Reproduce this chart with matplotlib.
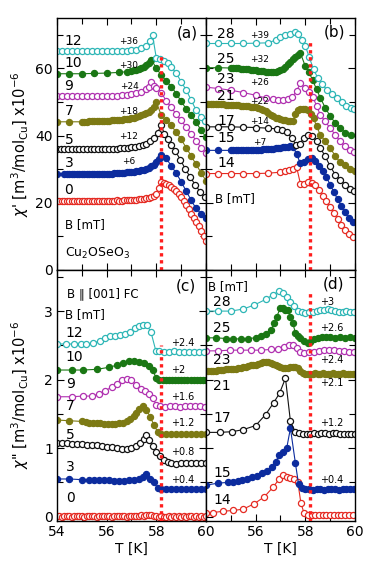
import matplotlib
matplotlib.use("Agg")
import matplotlib.pyplot as plt
from matplotlib.ticker import MultipleLocator

TC = 58.2  # position of the red dotted line [K]

# ---------------- panel (a): chi' , B = 0..12 mT ----------------
a_B = [0, 3, 5, 7, 9, 10, 12]
a_off = [0, 6, 12, 18, 24, 30, 36]

a0_T = [54.0, 54.1, 54.2, 54.3, 54.4, 54.5, 54.6, 54.7, 54.8, 54.9,
        55.0, 55.1, 55.2, 55.3, 55.4, 55.5, 55.6, 55.7, 55.8, 55.9,
        56.0, 56.1, 56.2, 56.3, 56.4, 56.5, 56.6, 56.7, 56.8, 56.9,
        57.0, 57.1, 57.2, 57.3, 57.4, 57.5, 57.6, 57.7, 57.8, 57.9,
        58.0, 58.1, 58.2, 58.3, 58.4, 58.5, 58.6, 58.7, 58.8, 58.9,
        59.0, 59.1, 59.2, 59.3, 59.4, 59.5, 59.6, 59.7, 59.8, 59.9, 60.0]
a0_chi = [20.5, 20.6, 20.5, 20.6, 20.6, 20.5, 20.6, 20.6, 20.5, 20.6,
          20.6, 20.5, 20.6, 20.6, 20.6, 20.5, 20.6, 20.6, 20.6, 20.5,
          20.6, 20.6, 20.6, 20.6, 20.7, 20.6, 20.6, 20.7, 20.7, 20.7,
          20.8, 20.8, 20.9, 21.0, 21.1, 21.2, 21.3, 21.4, 21.6, 21.9,
          22.6, 24.5, 26.3, 26.0, 25.6, 25.2, 24.8, 24.2, 23.5, 22.7,
          21.7, 20.6, 19.4, 18.1, 16.8, 15.6, 14.4, 13.0, 11.5, 10.0, 8.6]

a3_T = [54.0, 54.3, 54.4, 54.5, 54.6, 54.7, 54.8, 54.9, 55.0, 55.1, 55.2, 55.3, 55.4,
        55.5, 55.6, 55.7, 55.8, 55.9, 56.0,
        56.1, 56.2, 56.3, 56.4, 56.5, 56.6, 56.7, 56.8, 56.9, 57.0,
        57.1, 57.2, 57.3, 57.4, 57.5, 57.6, 57.7, 57.8, 57.9, 58.0, 58.1, 58.2,
        58.4, 58.6, 58.8, 59.0, 59.2, 59.4, 59.6, 59.8, 60.0]
a3_chi = [22.6, 22.6, 22.5, 22.6, 22.6, 22.6, 22.5, 22.6, 22.6, 22.6, 22.6, 22.5, 22.6,
          22.6, 22.6, 22.6, 22.6, 22.6, 22.6,
          22.7, 22.7, 22.8, 22.8, 22.9, 22.9, 23.0, 23.1, 23.1, 23.2,
          23.3, 23.4, 23.5, 23.7, 23.9, 24.1, 24.4, 24.8, 25.3, 26.0, 27.0, 28.2,
          27.2, 25.0, 22.8, 20.3, 17.5, 14.8, 12.3, 10.8, 9.6]

a5_T = [54.0, 54.15, 54.3, 54.45, 54.6, 54.75, 54.9, 55.05, 55.2, 55.35, 55.5, 55.65,
        55.8, 55.95, 56.1, 56.25,
        56.4, 56.55, 56.7, 56.85, 57.0, 57.15, 57.3, 57.45, 57.6, 57.75, 57.9,
        58.05, 58.2, 58.32, 58.45, 58.6, 58.77, 58.97, 59.17, 59.37, 59.57, 59.77, 59.95]
a5_chi = [24.1, 24.1, 24.0, 24.1, 24.1, 24.1, 24.0, 24.1, 24.1, 24.1, 24.1, 24.0,
          24.1, 24.1, 24.1, 24.1,
          24.1, 24.2, 24.3, 24.4, 24.5, 24.7, 24.9, 25.2, 25.6, 26.3, 27.3,
          28.8, 31.2, 28.5, 26.9, 25.3, 23.3, 20.8, 18.0, 15.6, 13.3, 11.2, 9.6]

a7_T = [54.0, 54.5, 55.0, 55.1, 55.2, 55.3, 55.4, 55.5, 55.6, 55.7, 55.8, 55.9, 56.0,
        56.1, 56.2, 56.3, 56.4, 56.5, 56.6, 56.7, 56.8, 56.9, 57.0,
        57.1, 57.2, 57.3, 57.4, 57.5, 57.6, 57.7, 57.8, 57.9, 58.0,
        58.2, 58.4, 58.6, 58.8, 59.0, 59.2, 59.4, 59.6, 59.8, 60.0]
a7_chi = [26.1, 26.1, 26.1, 26.1, 26.1, 26.2, 26.2, 26.2, 26.2, 26.3, 26.3, 26.3, 26.4,
          26.4, 26.5, 26.5, 26.6, 26.6, 26.7, 26.8, 26.9, 27.0, 27.1,
          27.3, 27.5, 27.7, 28.0, 28.4, 28.6, 28.9, 29.5, 30.5, 32.0,
          28.0, 26.5, 25.0, 23.0, 20.9, 18.4, 16.0, 13.4, 11.0, 8.5]

a9_T = [54.0, 54.2, 54.4, 54.6, 54.8, 55.0, 55.2, 55.4, 55.6, 55.8, 56.0, 56.2, 56.4,
        56.6, 56.8, 57.0, 57.2, 57.4, 57.6,
        57.7, 57.8, 57.9, 58.0, 58.2, 58.4, 58.6, 58.8, 59.0, 59.2, 59.4, 59.6, 59.8, 60.0]
a9_chi = [27.8, 27.8, 27.8, 27.8, 27.8, 27.8, 27.8, 27.8, 27.8, 27.9, 27.9, 27.9, 27.9,
          28.0, 28.2, 28.4, 28.7, 29.1, 29.8,
          30.6, 31.9, 30.8, 30.2, 28.8, 26.3, 24.4, 22.4, 20.5, 18.5, 16.6, 14.5, 12.4, 10.8]

a10_T = [54.0, 54.5, 55.0, 55.5, 56.0, 56.5, 56.8, 57.0, 57.1, 57.2, 57.3, 57.4, 57.5,
         57.6, 57.7, 57.8,
         58.0, 58.2, 58.4, 58.6, 58.8, 59.0, 59.2, 59.4, 59.6, 59.8, 60.0]
a10_chi = [28.4, 28.4, 28.4, 28.5, 28.6, 28.8, 29.0, 29.2, 29.4, 29.6, 29.8, 30.1, 30.5,
           31.0, 31.7, 32.6,
           30.0, 28.0, 26.2, 24.6, 22.5, 20.2, 18.0, 16.0, 14.0, 11.6, 9.6]

a12_T = [54.0, 54.2, 54.4, 54.6, 54.8, 55.0, 55.2, 55.4, 55.6, 55.8, 56.0, 56.2, 56.4, 56.6,
         56.8, 57.0, 57.2, 57.4, 57.6,
         57.75, 57.85, 58.0, 58.15, 58.3, 58.45, 58.6, 58.8, 59.0, 59.2, 59.4, 59.6, 59.8, 59.95]
a12_chi = [29.2, 29.2, 29.2, 29.2, 29.2, 29.2, 29.2, 29.2, 29.2, 29.2, 29.2, 29.2, 29.2, 29.2,
           29.3, 29.4, 29.6, 30.0, 30.8,
           32.0, 33.8, 27.0, 26.7, 26.3, 25.5, 24.4, 22.6, 20.0, 17.6, 14.6, 11.6, 9.6, 8.2]

# ---------------- panel (b): chi' , B = 14..28 mT ----------------
b_B = [14, 15, 17, 21, 23, 25, 28]
b_off = [0, 7, 14, 22, 26, 32, 39]

b14_T = [54.0, 54.5, 55.0, 55.5, 56.0, 56.5, 57.0, 57.2, 57.35, 57.5, 57.65,
         57.8, 57.95, 58.1, 58.25, 58.4, 58.55, 58.7, 58.85, 59.0, 59.15, 59.3, 59.45,
         59.6, 59.75, 59.9]
b14_chi = [28.7, 28.7, 28.7, 28.7, 28.7, 28.8, 29.1, 29.5, 29.8, 30.2, 30.6,
           25.7, 25.6, 26.1, 26.0, 25.2, 23.8, 21.9, 20.4, 18.7, 17.0, 15.2, 13.4,
           11.8, 10.7, 9.8]

b15_T = [54.0, 54.5, 55.0, 55.1, 55.2, 55.3, 55.4, 55.5, 55.6, 55.7, 55.8, 55.9, 56.0,
         56.1, 56.2, 56.3, 56.4, 56.5, 56.6, 56.7, 56.8, 56.9, 57.0,
         57.1, 57.2, 57.3, 57.4, 57.5,
         57.65, 57.8, 57.95, 58.1, 58.25, 58.4, 58.55, 58.7, 58.85, 59.0, 59.15, 59.3,
         59.45, 59.6, 59.75, 59.9]
b15_chi = [28.6, 28.6, 28.6, 28.6, 28.6, 28.6, 28.6, 28.7, 28.7, 28.7, 28.7, 28.7, 28.8,
           28.8, 28.8, 28.9, 28.9, 29.0, 29.0, 29.1, 29.2, 29.3, 29.4,
           29.5, 29.6, 29.7, 29.8, 29.7,
           27.5, 24.7, 25.2, 25.9, 26.3, 25.4, 23.9, 22.4, 20.6, 18.4, 16.2, 14.0,
           12.0, 10.2, 8.5, 7.3]

b17_T = [54.0, 54.5, 55.0, 55.5, 56.0, 56.5, 56.85, 57.05, 57.25, 57.45, 57.62, 57.78,
         57.93, 58.1, 58.28, 58.45, 58.6, 58.8, 59.0, 59.2, 59.4, 59.6, 59.8, 59.95]
b17_chi = [28.6, 28.6, 28.6, 28.5, 28.4, 28.2, 28.0, 27.8, 27.0, 25.3, 23.3, 23.4,
           25.3, 26.3, 25.9, 24.4, 22.4, 19.8, 16.9, 14.4, 12.8, 11.4, 10.2, 9.5]

b21_T = [54.0, 54.1, 54.2, 54.3, 54.4, 54.5, 54.6, 54.7, 54.8, 54.9,
         55.0, 55.1, 55.2, 55.3, 55.4, 55.5, 55.6, 55.7, 55.8, 55.9,
         56.0, 56.1, 56.2, 56.3, 56.4, 56.5, 56.6, 56.7, 56.8, 56.9,
         57.0, 57.1, 57.2, 57.3, 57.4, 57.5,
         57.6, 57.7, 57.8, 57.9, 58.0, 58.1, 58.22, 58.33, 58.45, 58.6, 58.8, 59.0,
         59.2, 59.4, 59.6, 59.8, 60.0]
b21_chi = [27.5, 27.5, 27.5, 27.4, 27.4, 27.4, 27.3, 27.3, 27.2, 27.2,
           27.1, 27.1, 27.0, 27.0, 26.9, 26.9, 26.8, 26.7, 26.6, 26.5,
           26.4, 26.2, 26.0, 25.7, 25.3, 24.8, 24.2, 23.7, 23.3, 23.1,
           22.9, 22.7, 22.5, 22.3, 22.2, 22.3,
           24.5, 25.5, 25.8, 25.8, 25.8, 25.5, 24.5, 23.2, 20.8, 18.3, 16.3, 14.3,
           12.0, 10.0, 9.2, 8.0, 7.5]

b23_T = [54.0, 54.5, 55.0, 55.5, 56.0, 56.4, 56.7, 56.9, 57.1, 57.3, 57.47, 57.65, 57.8,
         57.97, 58.13, 58.3, 58.45, 58.6, 58.8, 59.0, 59.2, 59.4, 59.6, 59.8, 59.95]
b23_chi = [28.4, 28.0, 27.5, 26.8, 26.0, 25.2, 24.8, 24.7, 24.7, 24.9, 25.5, 27.2, 29.7,
           28.2, 26.9, 25.5, 22.9, 20.2, 18.2, 16.2, 14.3, 12.3, 10.8, 9.6, 9.2]

b25_T = [54.0, 54.5,
         55.0, 55.1, 55.2, 55.3, 55.4, 55.5, 55.6, 55.7, 55.8, 55.9,
         56.0, 56.1, 56.2, 56.3, 56.4, 56.5, 56.6, 56.7, 56.8, 56.9,
         57.0, 57.1, 57.2, 57.3, 57.4, 57.5, 57.6, 57.7, 57.8,
         58.0, 58.15, 58.3, 58.45, 58.6, 58.8, 59.0, 59.2, 59.4, 59.6, 59.85]
b25_chi = [28.2, 28.2,
           28.1, 28.1, 28.0, 28.0, 27.9, 27.8, 27.8, 27.7, 27.6, 27.5,
           27.4, 27.3, 27.2, 27.1, 27.0, 27.0, 26.9, 26.9, 27.0, 27.2,
           27.5, 27.9, 28.5, 29.2, 30.0, 30.8, 31.5, 32.1, 32.6,
           28.6, 26.8, 24.4, 21.8, 19.3, 16.3, 13.8, 11.8, 10.3, 8.9, 8.2]

b28_T = [54.0, 54.5, 55.0, 55.5, 56.0, 56.5, 56.8, 57.0, 57.2, 57.4, 57.57, 57.7, 57.85,
         58.0, 58.15, 58.33, 58.5, 58.67, 58.87, 59.07, 59.27, 59.47, 59.64, 59.83, 59.95]
b28_chi = [28.4, 28.4, 28.4, 28.4, 28.5, 28.6, 29.4, 30.2, 30.9, 31.2, 31.8, 31.1, 29.5,
           27.7, 24.5, 20.7, 18.2, 16.2, 14.7, 13.5, 12.2, 10.9, 9.9, 9.2, 8.9]

# ---------------- panel (c): chi'' , B = 0..12 mT ----------------
c_B = [0, 3, 5, 7, 9, 10, 12]
c_off = [0, 0.4, 0.8, 1.2, 1.6, 2.0, 2.4]

c0_T = a0_T
c0_chi = [0.01, 0.01, 0.00, 0.01, 0.01, 0.01, 0.00, 0.01, 0.01, 0.01,
          0.01, 0.00, 0.01, 0.01, 0.01, 0.01, 0.00, 0.01, 0.01, 0.01,
          0.01, 0.01, 0.00, 0.01, 0.01, 0.01, 0.01, 0.01, 0.00, 0.01,
          0.01, 0.01, 0.01, 0.01, 0.02, 0.01, 0.02, 0.02, 0.02, 0.01,
          0.01, 0.00, 0.01, 0.00, 0.00, 0.01, 0.00, 0.01, 0.00, 0.01,
          0.00, 0.01, 0.00, 0.01, 0.01, 0.00, 0.01, 0.00, 0.01, 0.00, 0.01]

c3_T = [54.0, 54.5, 55.0, 55.3, 55.5, 55.7, 55.9, 56.1, 56.3, 56.5, 56.7, 56.9, 57.1,
        57.3, 57.45, 57.6, 57.75, 57.9, 58.05, 58.2, 58.4, 58.6, 58.8, 59.0, 59.2, 59.4,
        59.6, 59.8, 60.0]
c3_chi = [0.15, 0.15, 0.14, 0.14, 0.14, 0.13, 0.13, 0.13, 0.12, 0.12, 0.12, 0.13, 0.14,
          0.15, 0.18, 0.22, 0.15, 0.10, 0.02, 0.01, 0.01, 0.00, 0.01, 0.00, 0.00, 0.01,
          0.00, 0.00, 0.00]

c5_T = [54.0, 54.2, 54.4, 54.6, 54.8, 55.0, 55.2, 55.4, 55.6, 55.8, 56.0, 56.2, 56.4,
        56.6, 56.8, 57.0, 57.2, 57.35, 57.5, 57.6, 57.72, 57.85, 58.0, 58.15, 58.3, 58.45,
        58.6, 58.8, 59.0, 59.2, 59.4, 59.6, 59.8, 60.0]
c5_chi = [0.27, 0.27, 0.27, 0.26, 0.26, 0.26, 0.25, 0.25, 0.24, 0.23, 0.22, 0.21, 0.20,
          0.19, 0.19, 0.20, 0.23, 0.28, 0.34, 0.39, 0.32, 0.23, 0.15, 0.08, 0.03, 0.00,
          -0.02, -0.03, -0.01, -0.01, -0.02, -0.01, -0.02, -0.01]

c7_T = [54.0, 54.5, 55.0, 55.15, 55.3, 55.45, 55.6, 55.75, 55.9, 56.05, 56.2, 56.35,
        56.5, 56.65, 56.8, 56.95, 57.1, 57.2, 57.3, 57.45, 57.6, 57.75, 57.9, 58.05,
        58.2, 58.4, 58.6, 58.8, 59.0, 59.2, 59.4, 59.6, 59.8, 60.0]
c7_chi = [0.21, 0.20, 0.19, 0.18, 0.17, 0.17, 0.16, 0.16, 0.15, 0.15, 0.15, 0.15,
          0.16, 0.17, 0.19, 0.22, 0.27, 0.32, 0.37, 0.41, 0.36, 0.26, 0.14, 0.04,
          0.01, 0.00, 0.01, 0.00, 0.01, 0.00, 0.01, 0.01, 0.00, 0.01]

c9_T = [54.0, 54.6, 55.05, 55.4, 55.7, 55.95, 56.2, 56.4, 56.6, 56.8, 57.0, 57.2, 57.38,
        57.55, 57.72, 57.86, 58.0, 58.15, 58.35, 58.55, 58.75, 58.95, 59.15, 59.35,
        59.55, 59.75, 59.95]
c9_chi = [0.15, 0.15, 0.16, 0.16, 0.19, 0.24, 0.29, 0.34, 0.39, 0.41, 0.39, 0.32, 0.27,
          0.23, 0.19, 0.13, 0.03, 0.01, 0.00, 0.01, 0.01, 0.00, 0.01, 0.01,
          0.02, 0.01, 0.00]

c10_T = [54.0, 54.6, 55.05, 55.6, 56.1, 56.4, 56.65, 56.9, 57.1, 57.3, 57.5, 57.7, 57.85,
         58.0, 58.12, 58.25, 58.38, 58.5, 58.62, 58.75, 58.88, 59.0, 59.12, 59.25, 59.38,
         59.5, 59.62, 59.75, 59.88, 60.0]
c10_chi = [0.14, 0.14, 0.14, 0.15, 0.18, 0.21, 0.24, 0.27, 0.27, 0.26, 0.24, 0.20, 0.14,
           0.02, -0.01, -0.01, -0.01, 0.00, -0.01, 0.00, 0.00, -0.01, 0.00, 0.00, -0.01,
           0.00, 0.00, -0.01, 0.00, 0.00]

c12_T = [54.0, 54.35, 54.7, 54.95, 55.15, 55.45, 55.75, 55.95, 56.15, 56.35, 56.55, 56.75,
         56.95, 57.15, 57.3, 57.48, 57.62, 57.78, 57.98, 58.12, 58.3, 58.5, 58.7, 58.9,
         59.1, 59.3, 59.5, 59.7, 59.9]
c12_chi = [0.12, 0.12, 0.12, 0.12, 0.12, 0.13, 0.17, 0.21, 0.23, 0.24, 0.25, 0.27,
           0.30, 0.35, 0.38, 0.39, 0.39, 0.30, 0.02, 0.02, 0.01, 0.01, 0.02, 0.01,
           0.00, 0.01, 0.01, 0.00, 0.01]

# ---------------- panel (d): chi'' , B = 14..28 mT ----------------
d_B = [14, 15, 17, 21, 23, 25, 28]
d_off = [0, 0.4, 1.2, 2.1, 2.4, 2.6, 3.0]

d14_T = [54.0, 54.3, 54.7, 55.1, 55.5, 55.95, 56.35, 56.7, 56.95, 57.1, 57.25, 57.4,
         57.55, 57.7, 57.82, 57.95, 58.1, 58.25, 58.4, 58.55, 58.7, 58.85, 59.0, 59.15,
         59.3, 59.45, 59.6, 59.75, 59.9]
d14_chi = [0.05, 0.06, 0.08, 0.09, 0.11, 0.19, 0.29, 0.43, 0.55, 0.61, 0.58, 0.56,
           0.55, 0.50, 0.20, 0.05, 0.02, 0.02, 0.02, 0.03, 0.03, 0.02, 0.03, 0.03,
           0.03, 0.02, 0.03, 0.02, 0.02]

d15_T = [54.0, 54.5, 54.9, 55.1, 55.3, 55.45, 55.65, 55.85, 56.05, 56.25, 56.45, 56.65,
         56.8, 56.95, 57.1, 57.25, 57.4, 57.6, 57.73, 57.87, 58.0, 58.15, 58.3, 58.45,
         58.6, 58.75, 58.9, 59.05, 59.2, 59.35, 59.5, 59.65, 59.8, 59.95]
d15_chi = [0.06, 0.09, 0.10, 0.11, 0.12, 0.14, 0.15, 0.18, 0.20, 0.23, 0.26, 0.33,
           0.40, 0.50, 0.55, 0.60, 0.89, 0.38, 0.07, 0.02, 0.01, 0.00, -0.01, 0.00,
           0.00, -0.01, 0.00, 0.00, 0.00, -0.01, 0.00, 0.00, 0.00, 0.00]

d17_T = [54.0, 54.55, 55.05, 55.5, 56.0, 56.4, 56.72, 56.96, 57.2, 57.4, 57.6, 57.75,
         57.9, 58.05, 58.2, 58.35, 58.5, 58.65, 58.8, 58.95, 59.1, 59.25, 59.4, 59.55,
         59.7, 59.85, 60.0]
d17_chi = [0.03, 0.03, 0.04, 0.07, 0.13, 0.29, 0.46, 0.60, 0.82, 0.19, 0.03, 0.02,
           0.01, 0.01, 0.01, 0.02, 0.01, 0.02, 0.02, 0.01, 0.02, 0.02, 0.01, 0.01,
           0.01, 0.01, 0.01]

d21_T = a0_T
d21_chi = [0.02, 0.02, 0.03, 0.03, 0.03, 0.04, 0.04, 0.04, 0.05, 0.05,
           0.05, 0.06, 0.06, 0.07, 0.07, 0.08, 0.09, 0.10, 0.11, 0.12,
           0.12, 0.13, 0.14, 0.15, 0.15, 0.15, 0.14, 0.13, 0.11, 0.10,
           0.08, 0.07, 0.07, 0.07, 0.08, 0.08, 0.08, 0.07, 0.02, -0.01,
           -0.02, -0.02, -0.02, -0.02, -0.01, -0.02, -0.02, -0.01, -0.02, -0.02,
           -0.02, -0.01, -0.02, -0.02, -0.02, -0.01, -0.02, -0.02, -0.02, -0.02, -0.02]

d23_T = [54.0, 54.5, 54.95, 55.35, 55.8, 56.2, 56.6, 56.9, 57.13, 57.33, 57.5, 57.66,
         57.8, 57.93, 58.13, 58.33, 58.54, 58.74, 58.94, 59.14, 59.35, 59.55, 59.75, 59.95]
d23_chi = [0.02, 0.02, 0.03, 0.03, 0.03, 0.03, 0.04, 0.05, 0.08, 0.11, 0.10, 0.06,
           0.01, -0.01, 0.00, 0.01, 0.02, 0.03, 0.03, 0.03, 0.02, 0.02, 0.01, 0.01]

d25_T = [54.0, 54.4, 54.8, 55.1, 55.4, 55.7, 56.0, 56.2, 56.4, 56.6, 56.75, 56.85, 57.0,
         57.1, 57.2, 57.3, 57.4, 57.5, 57.6, 57.7, 57.8, 57.95, 58.1, 58.2, 58.33, 58.5,
         58.67, 58.85, 59.0, 59.2, 59.4, 59.6, 59.8, 60.0]
d25_chi = [0.01, 0.01, 0.00, 0.00, -0.01, 0.00, 0.01, 0.04, 0.06, 0.12, 0.22, 0.32, 0.45,
           0.44, 0.42, 0.41, 0.32, 0.22, 0.08, 0.03, 0.01, -0.03, -0.07, -0.05, -0.01, 0.01,
           0.02, 0.02, 0.02, 0.01, 0.02, 0.01, 0.02, 0.01]

d28_T = [54.0, 54.5, 55.0, 55.5, 55.95, 56.4, 56.7, 56.95, 57.1, 57.25, 57.4, 57.55,
         57.7, 57.85, 58.0, 58.15, 58.3, 58.45, 58.6, 58.75, 58.9, 59.05, 59.2, 59.35,
         59.5, 59.65, 59.8, 59.95]
d28_chi = [0.00, 0.00, 0.00, 0.03, 0.09, 0.17, 0.24, 0.29, 0.26, 0.21, 0.13, 0.07,
           0.00, -0.02, -0.03, -0.02, -0.01, 0.00, 0.01, 0.02, 0.03, 0.02, 0.00, -0.01,
           -0.01, 0.00, -0.01, -0.01]

# ---------------- styling ----------------
colors = ['#e52a22', '#0c2c9e', '#111111', '#7d7a14', '#b030b0', '#1a7714', '#2db6b6']
filled = [False, True, False, True, False, True, False]
dot_red = '#ff1e1e'

fig = plt.figure(figsize=(3.74, 5.72), dpi=100)
W = 0.3984
ax_a = fig.add_axes([0.1524, 0.528, W, 0.4406])
ax_b = fig.add_axes([0.5508, 0.528, W, 0.4406])
ax_c = fig.add_axes([0.1524, 0.0892, W, 0.4388])
ax_d = fig.add_axes([0.5508, 0.0892, W, 0.4388])


def draw(ax, curves, offsets):
    for i, (T, chi) in enumerate(curves):
        y = [v + offsets[i] for v in chi]
        ax.plot(T, y, '-o', color=colors[i], lw=0.8, ms=4.4, mew=0.9,
                mec=colors[i], mfc=colors[i] if filled[i] else 'white')


draw(ax_a, [(a0_T, a0_chi), (a3_T, a3_chi), (a5_T, a5_chi), (a7_T, a7_chi),
            (a9_T, a9_chi), (a10_T, a10_chi), (a12_T, a12_chi)], a_off)
draw(ax_b, [(b14_T, b14_chi), (b15_T, b15_chi), (b17_T, b17_chi), (b21_T, b21_chi),
            (b23_T, b23_chi), (b25_T, b25_chi), (b28_T, b28_chi)], b_off)
draw(ax_c, [(c0_T, c0_chi), (c3_T, c3_chi), (c5_T, c5_chi), (c7_T, c7_chi),
            (c9_T, c9_chi), (c10_T, c10_chi), (c12_T, c12_chi)], c_off)
draw(ax_d, [(d14_T, d14_chi), (d15_T, d15_chi), (d17_T, d17_chi), (d21_T, d21_chi),
            (d23_T, d23_chi), (d25_T, d25_chi), (d28_T, d28_chi)], d_off)

# red dotted line at Tc
for ax, top in [(ax_a, 0.856), (ax_b, 0.905), (ax_c, 0.70), (ax_d, 0.91)]:
    ax.axvline(TC, ymin=0, ymax=top, color=dot_red, lw=2.4, ls=(0, (1, 1.1)), zorder=5)

# axes setup
for ax in [ax_a, ax_b, ax_c, ax_d]:
    ax.set_xlim(54, 60)
    ax.xaxis.set_major_locator(MultipleLocator(2))
    ax.xaxis.set_minor_locator(MultipleLocator(1))
    ax.tick_params(which='both', direction='in', top=True, right=True,
                   labelsize=10, width=0.8, pad=3)
    ax.tick_params(which='major', length=5)
    ax.tick_params(which='minor', length=4)
    for s in ax.spines.values():
        s.set_linewidth(1.0)

for ax in [ax_a, ax_b]:
    ax.set_ylim(0, 75)
    ax.yaxis.set_major_locator(MultipleLocator(20))
    ax.yaxis.set_minor_locator(MultipleLocator(10))
    ax.tick_params(labelbottom=False)
for ax in [ax_c, ax_d]:
    ax.set_ylim(-0.063, 3.6)
    ax.yaxis.set_major_locator(MultipleLocator(1))
    ax.yaxis.set_minor_locator(MultipleLocator(0.5))
    ax.set_xlabel('T [K]', fontsize=10, labelpad=2)
for ax in [ax_b, ax_d]:
    ax.tick_params(labelleft=False)
ax_d.set_xticks([56, 58, 60])

# field labels and offsets
num_fs = 10
off_fs = 6.5
for b, y in zip(a_B, [23.9, 31.9, 38.8, 47.3, 54.9, 61.7, 68.1]):
    ax_a.text(54.3, y, str(b), fontsize=num_fs, ha='left', va='center')
for o, y in zip(a_off[1:], [32.2, 39.8, 47.3, 54.7, 60.9, 67.9]):
    ax_a.text(56.9, y, '+%d' % o, fontsize=off_fs, ha='center', va='center')
for b, y in zip(b_B, [31.8, 39.3, 44.3, 51.7, 56.7, 62.9, 70.3]):
    ax_b.text(54.45, y, str(b), fontsize=num_fs, ha='left', va='center')
for o, y in zip(b_off[1:], [38.0, 44.3, 50.2, 55.7, 62.7, 69.8]):
    ax_b.text(56.15, y, '+%d' % o, fontsize=off_fs, ha='center', va='center')
for b, y in zip(c_B, [0.27, 0.73, 1.19, 1.61, 1.93, 2.33, 2.68]):
    ax_c.text(54.35, y, str(b), fontsize=num_fs, ha='left', va='center')
for o, y in zip(c_off[1:], [0.54, 0.94, 1.36, 1.75, 2.14, 2.53]):
    ax_c.text(58.6, y, '+%g' % o, fontsize=off_fs + 0.5, ha='left', va='center')
for b, y in zip(d_B, [0.24, 0.63, 1.44, 1.90, 2.29, 2.75, 3.14]):
    ax_d.text(54.3, y, str(b), fontsize=num_fs, ha='left', va='center')
for o, y in zip(d_off[1:], [0.53, 1.37, 1.95, 2.29, 2.75, 3.14]):
    ax_d.text(58.6, y, '+%g' % o, fontsize=off_fs + 0.5, ha='left', va='center')

# other annotations
ax_a.text(54.32, 13.4, 'B [mT]', fontsize=8.5, ha='left', va='center')
ax_a.text(54.32, 5.0, r'Cu$_2$OSeO$_3$', fontsize=9, ha='left', va='center')
ax_b.text(54.36, 21.4, 'B [mT]', fontsize=8.5, ha='left', va='center')
ax_c.text(54.39, 3.26, 'B \u2225 [001] FC', fontsize=8.5, ha='left', va='center')
ax_c.text(54.32, 2.95, 'B [mT]', fontsize=8.5, ha='left', va='center')
ax_d.text(54.08, 3.36, 'B [mT]', fontsize=8.5, ha='left', va='center')
ax_a.text(59.24, 70.6, '(a)', fontsize=11, ha='center', va='center')
ax_b.text(59.17, 70.7, '(b)', fontsize=11, ha='center', va='center')
ax_c.text(59.17, 3.36, '(c)', fontsize=11, ha='center', va='center')
ax_d.text(59.14, 3.39, '(d)', fontsize=11, ha='center', va='center')

fig.text(0.055, 0.748, r"$\chi$' [m$^3$/mol$_{\mathrm{Cu}}$] x10$^{-6}$",
         rotation=90, ha='center', va='center', fontsize=10.5)
fig.text(0.055, 0.309, r'$\chi$" [m$^3$/mol$_{\mathrm{Cu}}$] x10$^{-6}$',
         rotation=90, ha='center', va='center', fontsize=10.5)

fig.savefig('out.png', dpi=100)
